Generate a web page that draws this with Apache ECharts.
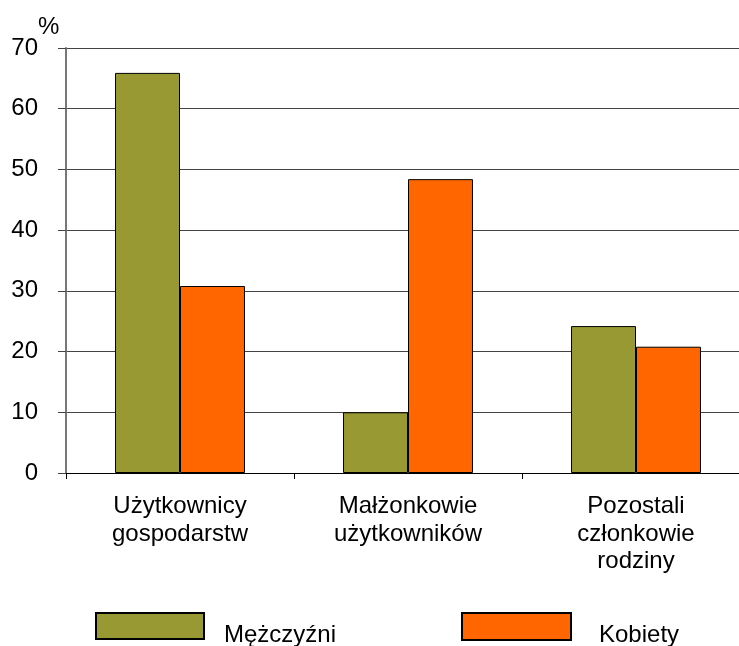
<!DOCTYPE html>
<html><head><meta charset="utf-8">
<script src="https://cdn.jsdelivr.net/npm/echarts@6/dist/echarts.min.js"></script>
<style>html,body{margin:0;padding:0;background:#fff}#c{width:739px;height:646px}</style>
</head><body><div id="c"></div>
<script>
const categories = ['Użytkownicy\ngospodarstw', 'Małżonkowie\nużytkowników', 'Pozostali\nczłonkowie\nrodziny'];
const seriesNames = ['Mężczyźni', 'Kobiety'];
const menValues = [65.9, 10.0, 24.2];
const womenValues = [30.8, 48.4, 20.8];
const yTicks = [0, 10, 20, 30, 40, 50, 60, 70];

const FONT = '"Liberation Sans", Arial, sans-serif';
const legendRich = {
  s: {lineHeight: 42, width: 0, fontSize: 24},
  a: {fontFamily: FONT, fontSize: 24, color: '#000', lineHeight: 26, verticalAlign: 'bottom'}
};
const chart = echarts.init(document.getElementById('c'), null, {renderer: 'canvas'});
chart.setOption({
  animation: false,
  backgroundColor: '#fff',
  title: {text: '%', left: 33, top: 10, textStyle: {fontFamily: FONT, fontSize: 24, fontWeight: 'normal', color: '#000'}},
  grid: {left: 66, top: 48, width: 684, height: 425, containLabel: false, outerBoundsMode: 'none'},
  legend: [
    {data: [seriesNames[0]], left: 90, top: 607, itemWidth: 108, itemHeight: 26, icon: 'rect',
     formatter: n => '{s|}{a|' + n + '}',
     textStyle: {fontFamily: FONT, fontSize: 24, color: '#000', padding: [0, 0, 0, 15], rich: legendRich}},
    {data: [seriesNames[1]], left: 456, top: 607, itemWidth: 109, itemHeight: 27, icon: 'rect',
     formatter: n => '{s|}{a|' + n + '}',
     textStyle: {fontFamily: FONT, fontSize: 24, color: '#000', padding: [0, 0, 0, 23], rich: legendRich}}
  ],
  xAxis: {
    type: 'category', data: categories,
    axisLine: {show: true, lineStyle: {color: '#000', width: 1}},
    axisTick: {show: true, length: 6, alignWithLabel: false, lineStyle: {color: '#000'}},
    axisLabel: {fontFamily: FONT, fontSize: 24, color: '#000', lineHeight: 27.5, margin: 20, interval: 0, verticalAlign: 'top'}
  },
  yAxis: {
    type: 'value', min: 0, max: 70, interval: 10,
    axisLine: {show: true, lineStyle: {color: '#777', width: 2}},
    axisTick: {show: true, length: 8, lineStyle: {color: '#444'}},
    splitLine: {show: true, lineStyle: {color: '#444', width: 1}},
    axisLabel: {fontFamily: FONT, fontSize: 24, color: '#000', margin: 28,
      formatter: v => yTicks.includes(v) ? String(v) : ''}
  },
  series: [
    {name: seriesNames[0], type: 'bar', data: menValues, barGap: '0%', barCategoryGap: '43%',
     itemStyle: {color: '#999933', borderColor: '#000', borderWidth: 1}},
    {name: seriesNames[1], type: 'bar', data: womenValues, barGap: '0%', barCategoryGap: '43%',
     itemStyle: {color: '#FF6600', borderColor: '#000', borderWidth: 1}}
  ]
});
</script></body></html>
